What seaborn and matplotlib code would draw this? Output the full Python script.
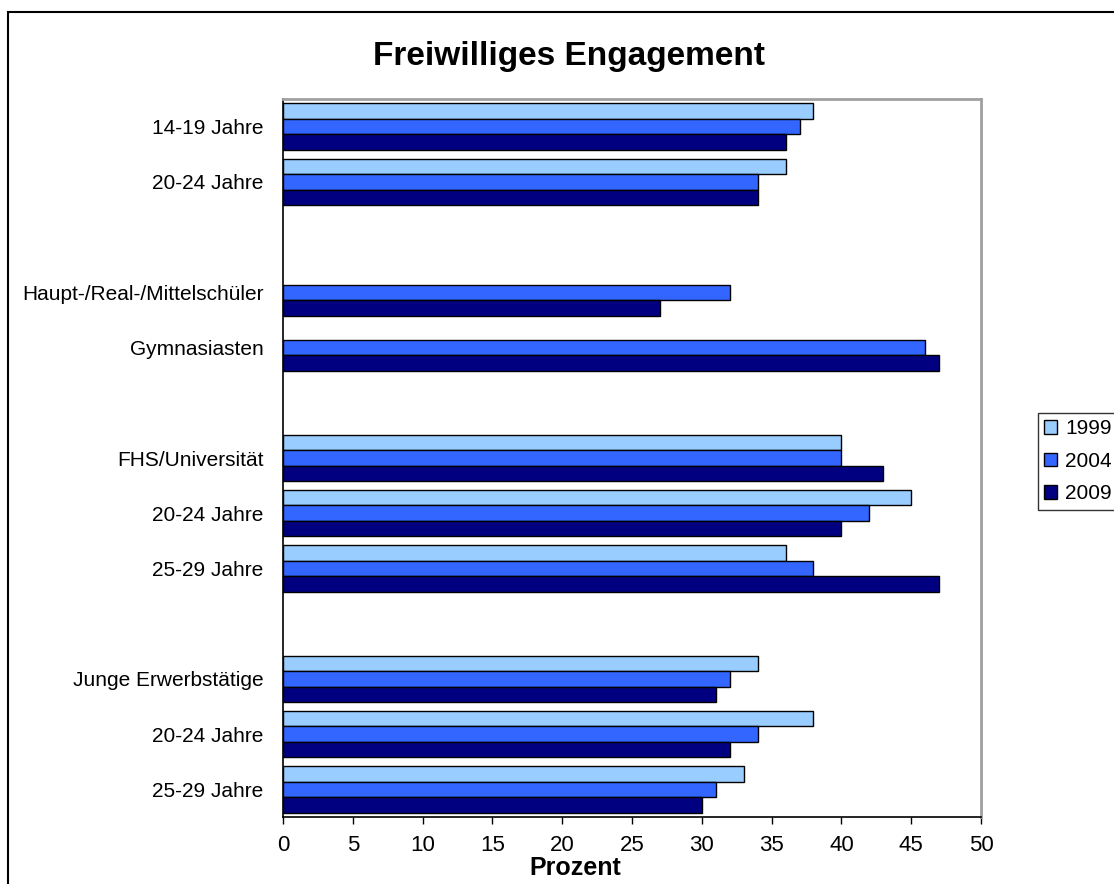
import matplotlib
matplotlib.use('Agg')
import matplotlib.pyplot as plt
import matplotlib.patches as mpatches
import numpy as np
import pandas as pd
import seaborn as sns

# rows of the chart, empty strings are the spacer rows
row_labels = ['14-19 Jahre', '20-24 Jahre', '',
              'Haupt-/Real-/Mittelschüler', 'Gymnasiasten', '',
              'FHS/Universität', '20-24 Jahre', '25-29 Jahre', '',
              'Junge Erwerbstätige', '20-24 Jahre', '25-29 Jahre']
years = ['1999', '2004', '2009']
nan = np.nan
v1999 = [38, 36, nan, nan, nan, nan, 40, 45, 36, nan, 34, 38, 33]
v2004 = [37, 34, nan, 32, 46, nan, 40, 42, 38, nan, 32, 34, 31]
v2009 = [36, 34, nan, 27, 47, nan, 43, 40, 47, nan, 31, 32, 30]
colors = ['#99CCFF', '#3366FF', '#000080']

row_ids = [f'r{i:02d}' for i in range(len(row_labels))]
df = pd.DataFrame({
    'row': row_ids * 3,
    'Jahr': [y for y in years for _ in row_ids],
    'Prozent': v1999 + v2004 + v2009,
})

sns.set_style('white')
plt.rcParams['font.family'] = ['Liberation Sans', 'DejaVu Sans']
plt.rcParams['text.color'] = 'black'
plt.rcParams['xtick.color'] = 'black'
plt.rcParams['ytick.color'] = 'black'

fig = plt.figure(figsize=(11.14, 8.84), dpi=100)
ax = fig.add_axes([283 / 1114, 1 - 817 / 884, (981 - 283) / 1114, (817 - 99) / 884])

sns.barplot(data=df, x='Prozent', y='row', hue='Jahr', order=row_ids,
            hue_order=years, palette=colors, orient='h', width=0.84,
            saturation=1, edgecolor='black', linewidth=1, errorbar=None,
            legend=False, ax=ax)

ax.set_xlim(0, 50)
ax.set_xticks(range(0, 51, 5))
ax.set_yticks(range(len(row_labels)))
ax.set_yticklabels(row_labels)
ax.set_xlabel('')
ax.set_ylabel('')
ax.tick_params(axis='y', length=0, pad=14, labelsize=15, labelcolor='black')
ax.tick_params(axis='x', length=5, width=1, direction='out', pad=8,
               labelsize=16, color='black', labelcolor='black', bottom=True)

for side in ['top', 'right']:
    ax.spines[side].set_color('#A0A0A0')
    ax.spines[side].set_linewidth(2)
for side in ['left', 'bottom']:
    ax.spines[side].set_color('black')
    ax.spines[side].set_linewidth(1.2)

fig.text(569 / 1114, 1 - 57 / 884, 'Freiwilliges Engagement',
         fontsize=24, fontweight='bold', ha='center', va='center', color='black')
fig.text(575 / 1114, 1 - 868 / 884, 'Prozent',
         fontsize=18, fontweight='bold', ha='center', va='center', color='black')

handles = [mpatches.Patch(facecolor=c, edgecolor='black', label=y)
           for c, y in zip(colors, years)]
leg = ax.legend(handles=handles, loc='upper left',
                bbox_to_anchor=(1038 / 1114, 1 - 413 / 884),
                bbox_transform=fig.transFigure, borderaxespad=0,
                fontsize=15, frameon=True, fancybox=False, shadow=False,
                handlelength=0.6, handleheight=0.6, handletextpad=0.4,
                labelspacing=0.65, borderpad=0.3)
leg.get_frame().set_edgecolor('black')
leg.get_frame().set_linewidth(1)

# outer chart frame, cut off at right and bottom like the screenshot
frame = mpatches.Rectangle((8 / 1114, -0.1), 2, 1 - 12 / 884 + 0.1,
                           transform=fig.transFigure, fill=False,
                           edgecolor='black', linewidth=1.5)
fig.add_artist(frame)

fig.savefig('out.png', dpi=100)
